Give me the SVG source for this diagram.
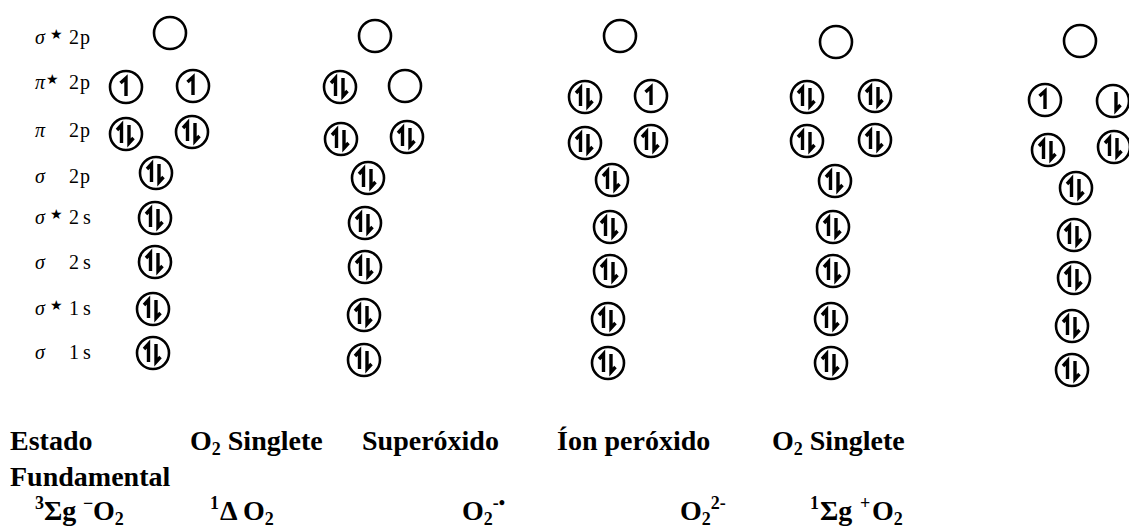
<svg xmlns="http://www.w3.org/2000/svg" width="1129" height="527" viewBox="0 0 1129 527">
  <style>
    .orb{fill:#fff;stroke:#000;stroke-width:2.6}
    .e{fill:none;stroke:#000;stroke-width:3.4;stroke-linecap:butt;stroke-linejoin:miter}
    .lvl{font-family:"Liberation Serif","Times New Roman",serif;font-size:20px;fill:#000;letter-spacing:1px}
    .sym{font-style:italic}
    .star{font-size:14px;font-family:"DejaVu Sans",sans-serif}
    .ttl{font-family:"Liberation Serif","Times New Roman",serif;font-size:28px;font-weight:bold;fill:#000}
    .sm{font-size:18px}
  </style>
  <defs>
    <!-- orbital boxes: empty, paired, single spin up, single spin down -->
    <g id="empty"><circle class="orb" r="16"/></g>
    <g id="pair"><circle class="orb" r="16"/><path class="e" d="M-4.5,9V-9L-9,-4M3,-9V9L7.5,4"/></g>
    <g id="up"><circle class="orb" r="16"/><path class="e" d="M0,9V-9L-5.5,-4"/></g>
    <g id="down"><circle class="orb" r="16"/><path class="e" d="M3,-9V9L7.5,4"/></g>
  </defs>
  <rect width="1129" height="527" fill="#fff"/>

  <!-- orbital level labels -->
  <g id="levels" class="lvl">
    <text y="44"><tspan x="35" class="sym">σ</tspan><tspan x="50" dy="-5" class="star">★</tspan><tspan x="69" dy="5">2p</tspan></text>
    <text y="89"><tspan x="35" class="sym">π</tspan><tspan x="46" dy="-5" class="star">★</tspan><tspan x="69" dy="5">2p</tspan></text>
    <text y="137"><tspan x="35" class="sym">π</tspan><tspan x="69">2p</tspan></text>
    <text y="183"><tspan x="35" class="sym">σ</tspan><tspan x="69">2p</tspan></text>
    <text y="224"><tspan x="35" class="sym">σ</tspan><tspan x="50" dy="-5" class="star">★</tspan><tspan x="69" dy="5">2</tspan><tspan x="83">s</tspan></text>
    <text y="269"><tspan x="35" class="sym">σ</tspan><tspan x="69">2</tspan><tspan x="83">s</tspan></text>
    <text y="315"><tspan x="35" class="sym">σ</tspan><tspan x="50" dy="-5" class="star">★</tspan><tspan x="69" dy="5">1</tspan><tspan x="83">s</tspan></text>
    <text y="359"><tspan x="35" class="sym">σ</tspan><tspan x="69">1</tspan><tspan x="83">s</tspan></text>
  </g>

  <!-- ground state triplet -->
  <g id="col-ground">
    <use href="#empty" x="170" y="33"/>
    <use href="#up" x="126" y="87"/>
    <use href="#up" x="193" y="86"/>
    <use href="#pair" x="126" y="134"/>
    <use href="#pair" x="192" y="132"/>
    <use href="#pair" x="156" y="173"/>
    <use href="#pair" x="155" y="218"/>
    <use href="#pair" x="155" y="262"/>
    <use href="#pair" x="153" y="309"/>
    <use href="#pair" x="153" y="353"/>
  </g>

  <!-- singlet delta -->
  <g id="col-singlet-delta">
    <use href="#empty" x="375" y="36"/>
    <use href="#pair" x="340" y="87"/>
    <use href="#empty" x="405" y="86"/>
    <use href="#pair" x="341" y="139"/>
    <use href="#pair" x="407" y="137"/>
    <use href="#pair" x="368" y="178"/>
    <use href="#pair" x="365" y="223"/>
    <use href="#pair" x="365" y="267"/>
    <use href="#pair" x="364" y="315"/>
    <use href="#pair" x="364" y="360"/>
  </g>

  <!-- superoxide -->
  <g id="col-superoxide">
    <use href="#empty" x="620" y="36"/>
    <use href="#pair" x="585" y="97"/>
    <use href="#up" x="651" y="96"/>
    <use href="#pair" x="585" y="143"/>
    <use href="#pair" x="651" y="141"/>
    <use href="#pair" x="612" y="180"/>
    <use href="#pair" x="610" y="227"/>
    <use href="#pair" x="610" y="271"/>
    <use href="#pair" x="608" y="319"/>
    <use href="#pair" x="608" y="363"/>
  </g>

  <!-- peroxide ion -->
  <g id="col-peroxide">
    <use href="#empty" x="836" y="42"/>
    <use href="#pair" x="807" y="97"/>
    <use href="#pair" x="875" y="96"/>
    <use href="#pair" x="807" y="141"/>
    <use href="#pair" x="875" y="140"/>
    <use href="#pair" x="835" y="181"/>
    <use href="#pair" x="833" y="227"/>
    <use href="#pair" x="833" y="271"/>
    <use href="#pair" x="831" y="319"/>
    <use href="#pair" x="831" y="363"/>
  </g>

  <!-- singlet sigma -->
  <g id="col-singlet-sigma">
    <use href="#empty" x="1080" y="41"/>
    <use href="#up" x="1045" y="100"/>
    <use href="#down" x="1113" y="101"/>
    <use href="#pair" x="1048" y="150"/>
    <use href="#pair" x="1114" y="147"/>
    <use href="#pair" x="1076" y="188"/>
    <use href="#pair" x="1074" y="235"/>
    <use href="#pair" x="1074" y="278"/>
    <use href="#pair" x="1072" y="326"/>
    <use href="#pair" x="1072" y="370"/>
  </g>

  <!-- species names -->
  <g id="names" class="ttl">
    <text x="10" y="450">Estado</text>
    <text x="10" y="486">Fundamental</text>
    <text y="450"><tspan x="190">O</tspan><tspan class="sm" dy="5">2</tspan><tspan dy="-5"> Singlete</tspan></text>
    <text x="362" y="450">Superóxido</text>
    <text x="557" y="450">Íon peróxido</text>
    <text y="450"><tspan x="772">O</tspan><tspan class="sm" dy="5">2</tspan><tspan dy="-5"> Singlete</tspan></text>
  </g>

  <!-- term symbols -->
  <g id="terms" class="ttl">
    <text y="520"><tspan x="35" class="sm" dy="-11">3</tspan><tspan x="44" dy="11">Σg</tspan><tspan x="83" class="sm" dy="-11">−</tspan><tspan x="93" dy="11">O</tspan><tspan class="sm" dy="5">2</tspan></text>
    <text y="520"><tspan x="210" class="sm" dy="-11">1</tspan><tspan x="220" dy="11">Δ O</tspan><tspan class="sm" dy="5">2</tspan></text>
    <text y="520"><tspan x="462">O</tspan><tspan class="sm" dy="5">2</tspan><tspan class="sm" dy="-16">-•</tspan></text>
    <text y="520"><tspan x="680">O</tspan><tspan class="sm" dy="5">2</tspan><tspan class="sm" dy="-16">2-</tspan></text>
    <text y="520"><tspan x="810" class="sm" dy="-11">1</tspan><tspan x="820" dy="11">Σg</tspan><tspan x="860" class="sm" dy="-11">+</tspan><tspan x="872" dy="11">O</tspan><tspan class="sm" dy="5">2</tspan></text>
  </g>
</svg>
